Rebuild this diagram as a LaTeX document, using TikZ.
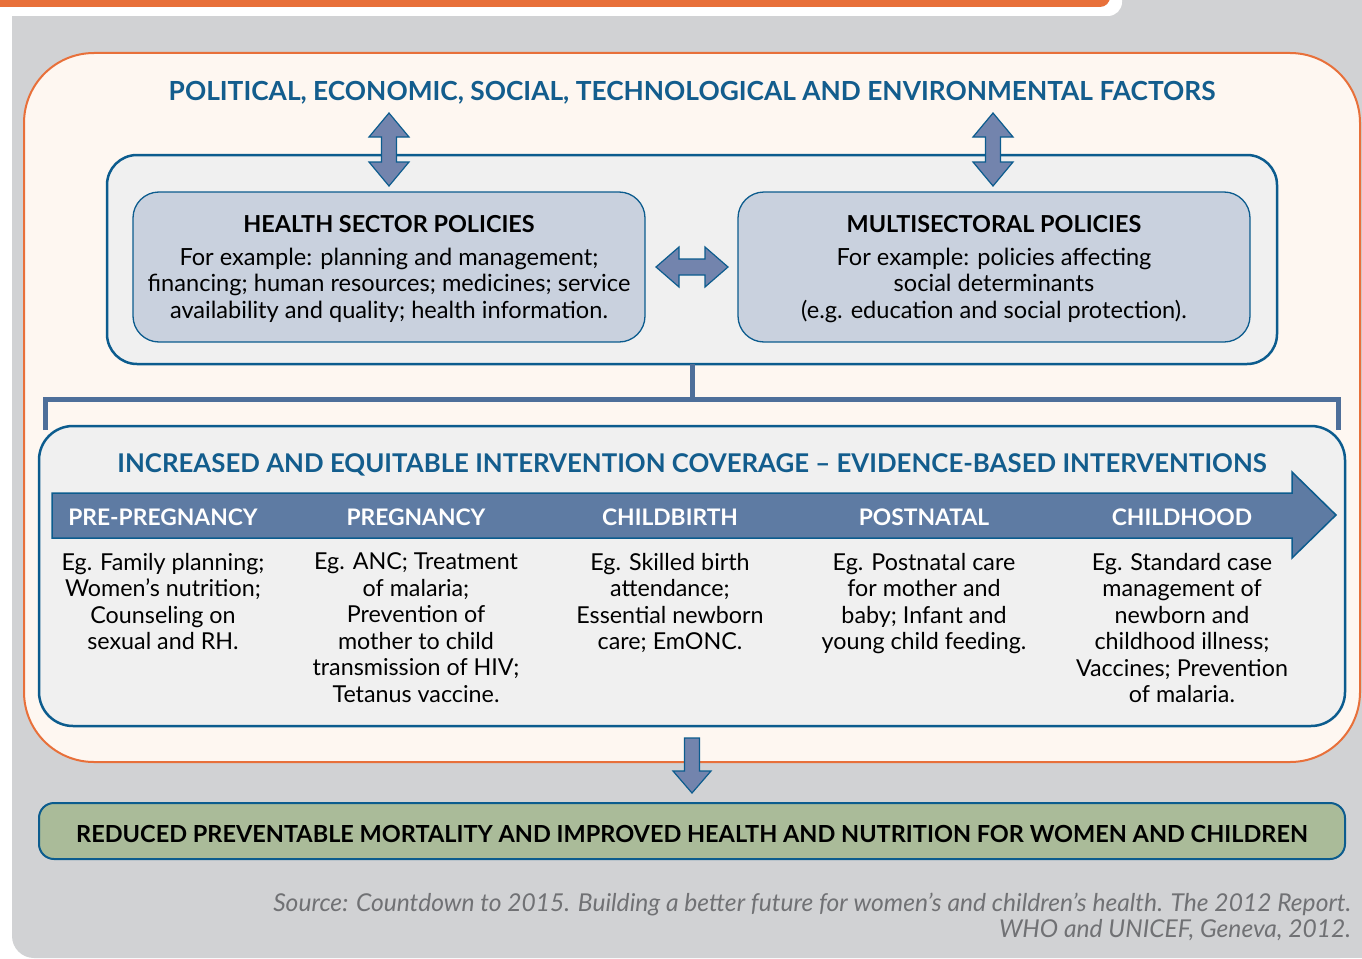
\documentclass[tikz,border=0pt]{standalone}
\usepackage{fontspec}
\setmainfont{Lato}
\begin{document}
\begin{tikzpicture}[x=1pt,y=-1pt,
  every node/.style={inner sep=0pt, outer sep=0pt},
  hdr/.style={font=\bfseries\fontsize{26.3}{30}\selectfont, text=titleblue},
  boxhead/.style={font=\bfseries\fontsize{23.4}{26}\selectfont, text=black},
  boxbody/.style={font=\fontsize{23.6}{26.5}\selectfont, align=center, text=black},
  bandlbl/.style={font=\bfseries\fontsize{22.8}{25}\selectfont, text=white},
  coltext/.style={font=\fontsize{23.3}{26.5}\selectfont, align=center, text=black, anchor=north},
  fatarrow/.style={fill=arrowfill, draw=borderblue, line width=1.2pt, line join=miter},
]
\definecolor{titleblue}{HTML}{135D8D}
\definecolor{borderblue}{HTML}{0C5C8E}
\definecolor{arrowfill}{HTML}{7384AD}
\definecolor{bandfill}{HTML}{5E7BA3}
\definecolor{bracketblue}{HTML}{4E6F9A}
\definecolor{greenfill}{HTML}{AABB99}
\definecolor{policyfill}{HTML}{C9D1DE}
\definecolor{bggray}{HTML}{D1D2D4}
\definecolor{cream}{HTML}{FEF7F1}
\definecolor{orangeline}{HTML}{E8703A}
\definecolor{panelgray}{HTML}{F0F0F0}
\definecolor{srcgray}{HTML}{707174}

\useasboundingbox (0,0) rectangle (1362,958);
% background
\fill[bggray, rounded corners=22pt] (12,0) -- (1362,0) -- (1362,958) -- (12,958) -- cycle;
\fill[bggray] (12,0) rectangle (1362,40);
\fill[bggray] (1300,0) rectangle (1362,958);
\fill[white, rounded corners=14pt] (-20,-20) -- (1122,-20) -- (1122,16) -- (-20,16) -- cycle;
\fill[orangeline, rounded corners=10pt] (-20,-20) -- (1110,-20) -- (1110,7) -- (-20,7) -- cycle;

% outer orange box
\draw[orangeline, fill=cream, line width=2pt, rounded corners=70pt] (24,53) rectangle (1360,762);
\node[hdr] (factors) at (692,93) {POLITICAL, ECONOMIC, SOCIAL, TECHNOLOGICAL AND ENVIRONMENTAL FACTORS};

% policy container
\draw[borderblue, fill=panelgray, line width=2.5pt, rounded corners=30pt] (107,155) rectangle (1277,364);
\coordinate (polbot) at (692,364);
\node[draw=borderblue, fill=policyfill, line width=1.3pt, rounded corners=26pt, minimum width=512, minimum height=150] (health) at (389,267) {};
\node[draw=borderblue, fill=policyfill, line width=1.3pt, rounded corners=26pt, minimum width=512, minimum height=150] (multi) at (994,267) {};
\node[boxhead] (healthh) at (389,224) {HEALTH SECTOR POLICIES};
\node[boxbody, anchor=north] (healthb) at (389,248) {For example: planning and management;\\financing; human resources; medicines; service\\availability and quality; health information.};
\node[boxhead] (multih) at (994,224) {MULTISECTORAL POLICIES};
\node[boxbody, anchor=north] (multib) at (994,248) {For example: policies affecting\\social determinants\\(e.g. education and social protection).};

% vertical double arrows
\foreach \cx in {389,993}{
  \draw[fatarrow, shift={(\cx,149.5)}] (0,-36.5) -- (20,-12.5) -- (7.5,-12.5) -- (7.5,12.5) -- (20,12.5) -- (0,36.5) -- (-20,12.5) -- (-7.5,12.5) -- (-7.5,-12.5) -- (-20,-12.5) -- cycle;
}
% horizontal double arrow
\draw[fatarrow, shift={(692,267)}] (-36,0) -- (-13,-20) -- (-13,-8) -- (13,-8) -- (13,-20) -- (36,0) -- (13,20) -- (13,8) -- (-13,8) -- (-13,20) -- cycle;

% bracket connector
\coordinate (brl) at (45.5,430);
\coordinate (brr) at (1338,430);
\draw[bracketblue, line width=5pt] (polbot) -- (692,399.5);
\draw[bracketblue, line width=5pt] (brl) -- (45.5,399.5) -- (1338,399.5) -- (brr);

% interventions box
\draw[borderblue, fill=panelgray, line width=2.5pt, rounded corners=34pt] (39,426) rectangle (1345,726);
\node[hdr, font=\bfseries\fontsize{25.8}{30}\selectfont] (coverage) at (692,465) {INCREASED AND EQUITABLE INTERVENTION COVERAGE -- EVIDENCE-BASED INTERVENTIONS};

% band arrow
\draw[fill=bandfill, draw=borderblue, line width=1.5pt, line join=miter] (52,493) -- (1292,493) -- (1292,472) -- (1336,515) -- (1292,558) -- (1292,538) -- (52,538) -- cycle;
\node[bandlbl] (l1) at (163,517) {PRE-PREGNANCY};
\node[bandlbl] (l2) at (416,517) {PREGNANCY};
\node[bandlbl] (l3) at (670,517) {CHILDBIRTH};
\node[bandlbl] (l4) at (924,517) {POSTNATAL};
\node[bandlbl] (l5) at (1182,517) {CHILDHOOD};

\node[coltext] (c1) at (163,553) {Eg. Family planning;\\Women’s nutrition;\\Counseling on\\sexual and RH.};
\node[coltext] (c2) at (416,553) {Eg. ANC; Treatment\\of malaria;\\Prevention of\\mother to child\\transmission of HIV;\\Tetanus vaccine.};
\node[coltext] (c3) at (670,553) {Eg. Skilled birth\\attendance;\\Essential newborn\\care; EmONC.};
\node[coltext] (c4) at (924,553) {Eg. Postnatal care\\for mother and\\baby; Infant and\\young child feeding.};
\node[coltext] (c5) at (1182,553) {Eg. Standard case\\management of\\newborn and\\childhood illness;\\Vaccines; Prevention\\of malaria.};

% down arrow
\draw[fatarrow] (684.5,738) -- (699.5,738) -- (699.5,771) -- (711,771) -- (692,793) -- (673,771) -- (684.5,771) -- cycle;

% outcome box
\node[draw=borderblue, fill=greenfill, line width=2pt, rounded corners=15pt, minimum width=1306, minimum height=56] (outcome) at (692,831) {};
\node[font=\bfseries\fontsize{23.5}{26}\selectfont, text=black] (outcomet) at (692,834) {REDUCED PREVENTABLE MORTALITY AND IMPROVED HEALTH AND NUTRITION FOR WOMEN AND CHILDREN};

% source
\node[font=\itshape\fontsize{24.6}{26}\selectfont, text=srcgray, align=right, anchor=north east] (source) at (1351,893) {Source: Countdown to 2015. Building a better future for women’s and children’s health. The 2012 Report.\\WHO and UNICEF, Geneva, 2012.};
\end{tikzpicture}
\end{document}
